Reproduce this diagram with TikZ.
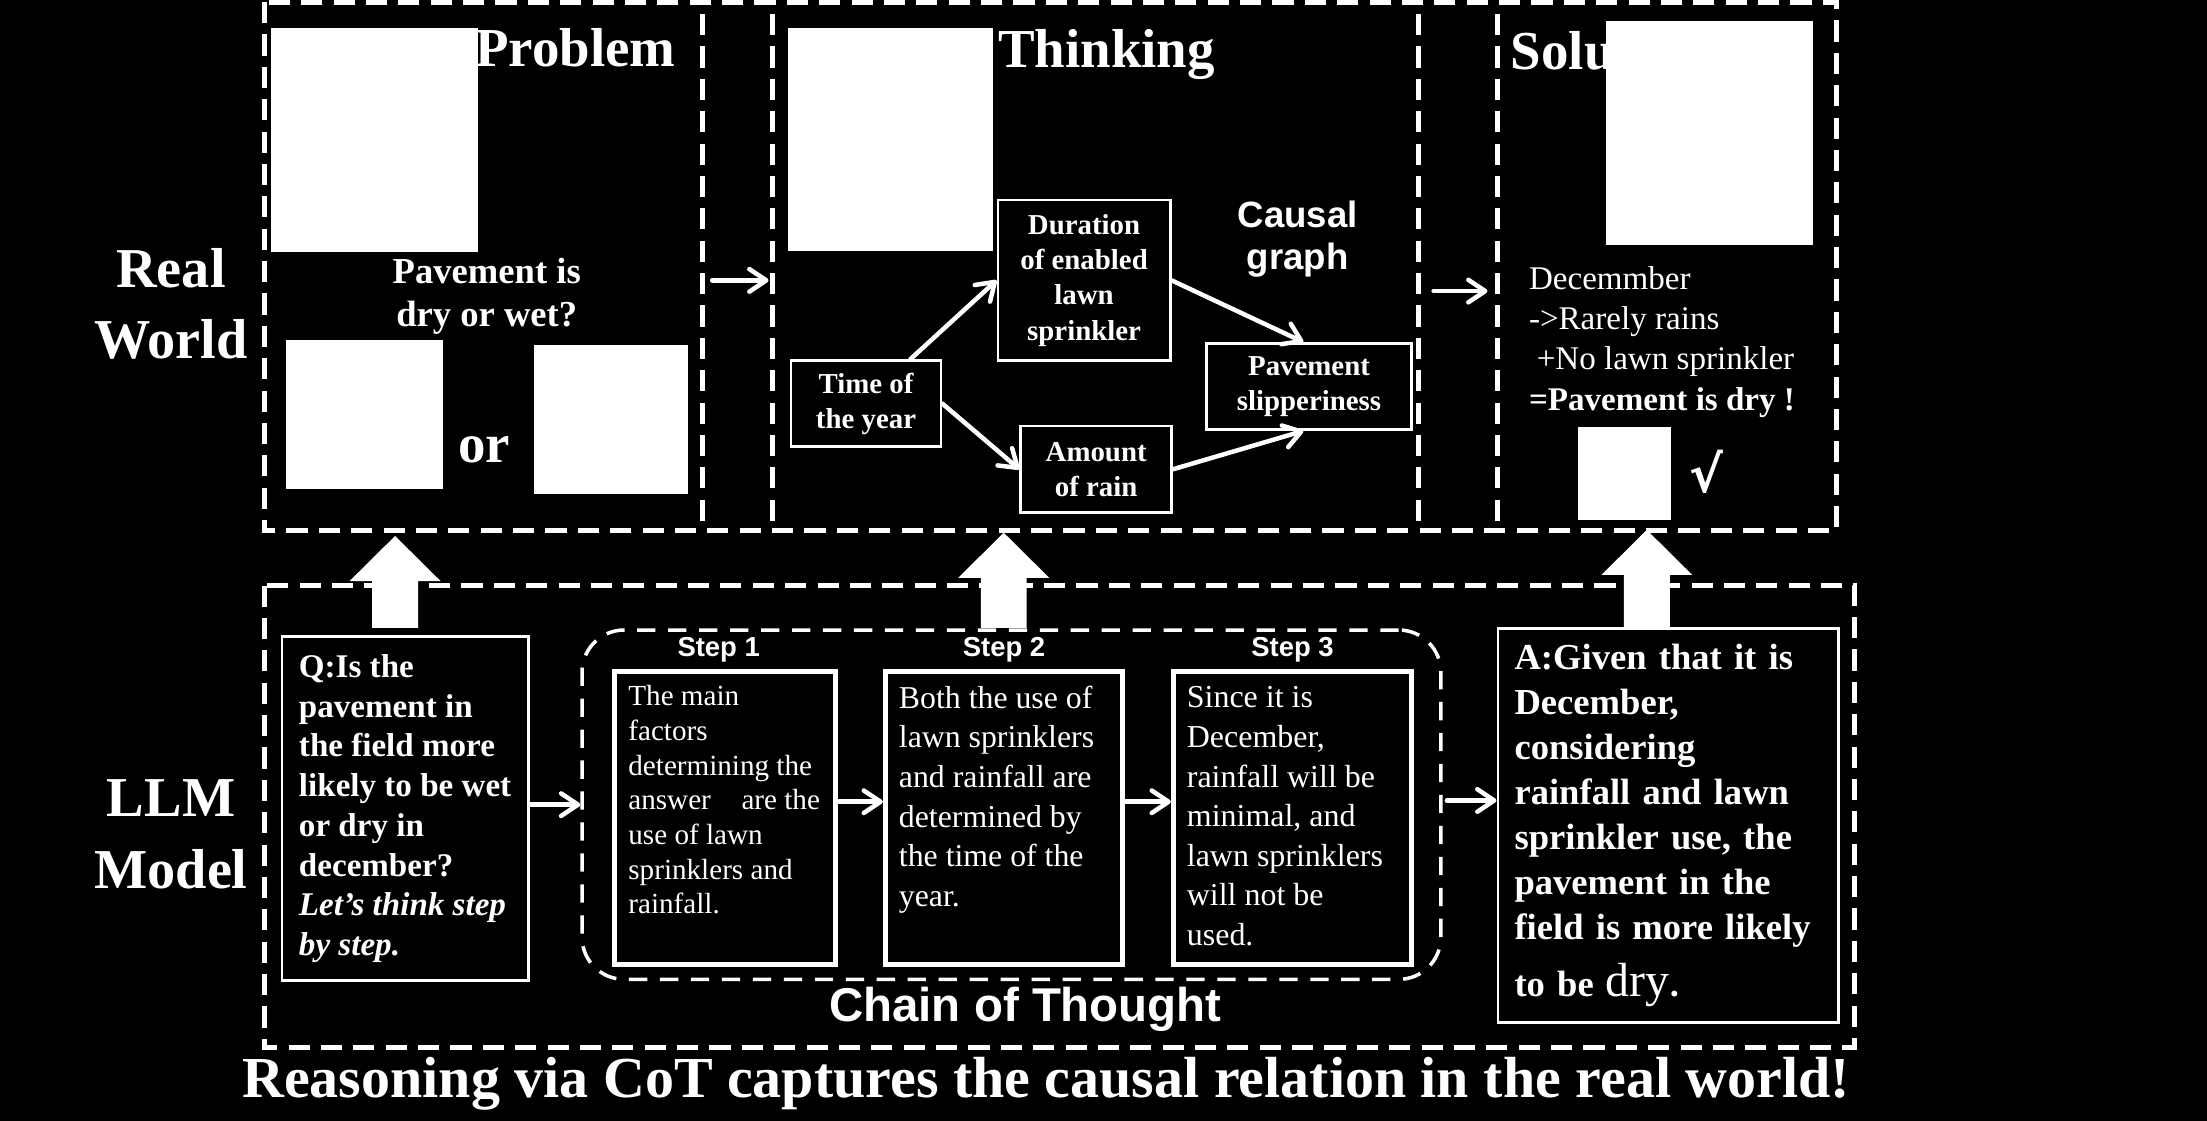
\documentclass[tikz,border=0pt]{standalone}
\usepackage{fontspec}
\setmainfont{Liberation Serif}
\setsansfont{Liberation Sans}
\newfontfamily\symfont{DejaVu Sans}
\usetikzlibrary{arrows.meta,positioning,calc}

\newcommand{\fsz}[2]{\fontsize{#1}{#2}\selectfont}

\tikzset{
  panel/.style={draw=white, line width=3.5pt, dash pattern=on 15pt off 8pt},
  title/.style={font=\bfseries\fsz{39}{39}, inner sep=0},
  sidelab/.style={font=\bfseries\fsz{40}{51}, align=center, inner sep=0},
  midtext/.style={font=\bfseries\fsz{26}{30.5}, align=center, inner sep=0},
  cg/.style={font=\sffamily\bfseries\fsz{26}{30}, align=center, inner sep=0},
  gbox/.style={draw=white, line width=2pt, font=\bfseries\fsz{20.5}{25}, align=center, inner sep=0},
  soltext/.style={font=\fsz{23.5}{28.5}, align=left, inner sep=0},
  tbox/.style={draw=white, line width=2pt, align=left, inner sep=0},
  sbox/.style={draw=white, line width=3.5pt, minimum height=207.8pt},
  stext/.style={align=left, inner sep=0},
  steplab/.style={font=\sffamily\bfseries\fsz{19.5}{19.5}, inner sep=0},
  cotbox/.style={draw=white, line width=2.5pt, dash pattern=on 13pt off 9pt, rounded corners=30pt},
  cotlab/.style={font=\sffamily\bfseries\fsz{33.7}{33.7}, inner sep=0},
  capt/.style={font=\bfseries\fsz{41.2}{41.2}, inner sep=0},
  conn/.style={->, white, line width=3.2pt, line cap=round},
}

\begin{document}
\begin{tikzpicture}[x=1pt, y=-1pt, >={Straight Barb[length=12pt,width=16pt,round]},
  every node/.style={text=white}]
\useasboundingbox (0,0) rectangle (1568,796.4);
\fill[black] (0,0) rectangle (1568,796.4);

% row labels (base = last line)
\node[sidelab, anchor=base] (rw) at (121.5,255) {Real\\World};
\node[sidelab, anchor=base] (llm) at (121.5,631.1) {LLM\\Model};

% real world panels
\draw[panel] (188,1.5) rectangle (1305,377);
\foreach \x in {499,549,1008,1064} \draw[panel] (\x,10) -- (\x,370);

% problem
\node[title, anchor=base west] (probt) at (337.5,47) {Problem};
\fill[white] (192.6,19.8) rectangle (339.3,178.9);
\node[midtext, anchor=base] (ask) at (345.8,232) {Pavement is\\dry or wet?};
\fill[white] (203.2,241.6) rectangle (314.5,347.6);
\node[title, anchor=base] (or) at (344,328.6) {or};
\fill[white] (379.2,245) rectangle (488.8,350.7);

\coordinate (pa1) at (506,199.2);
\coordinate (pa2) at (546,199.2);
\draw[conn] (pa1) -- (pa2);

% thinking
\node[title, anchor=base west] (thinkt) at (709,48.2) {Thinking};
\fill[white] (560,19.8) rectangle (705.7,178.1);
\node[cg, anchor=base] (cgraph) at (922,191.6) {Causal\\graph};

\node[gbox, minimum width=122.4pt, minimum height=114.2pt] (dur) at (770.2,199.2) {Duration\\of enabled\\lawn\\sprinkler};
\node[gbox, minimum width=106.5pt, minimum height=61pt] (time) at (615.25,286.75) {Time of\\the year};
\node[gbox, minimum width=107.1pt, minimum height=61.4pt] (rain) at (778.8,333.4) {Amount\\of rain};
\node[gbox, minimum width=145.7pt, minimum height=61.1pt] (pave) at (930,274.6) {Pavement\\slipperiness};

\draw[conn] (time.45) -- (dur.west);
\draw[conn] (time.east) -- (rain.west);
\draw[conn] (dur.east) -- ([xshift=-4pt]pave.north);
\draw[conn] (rain.east) -- ([xshift=-4pt]pave.south);

\coordinate (pb1) at (1018.5,206.8);
\coordinate (pb2) at (1056.8,206.8);
\draw[conn] (pb1) -- (pb2);

% solution
\node[title, anchor=base west] (solt) at (1073.3,49.5) {Solution};
\fill[white] (1141,14.7) rectangle (1288,174.1);
\node[soltext, anchor=base west] (sol) at (1086.1,291.3) {Decemmber\\->Rarely rains\\\hspace*{5.5pt}+No lawn sprinkler\\\textbf{=Pavement is dry !}};
\fill[white] (1120.9,303.7) rectangle (1187.4,369.2);
\node[font=\symfont\bfseries\fsz{36}{36}, inner sep=0, anchor=base] (ok) at (1212.5,350) {√};

% llm panel
\draw[panel] (188,416) rectangle (1317.4,744);
\foreach \x/\t in {280.7/380.8, 713.1/378.5, 1170/376.5}
  \fill[white] (\x-16.3,446) -- (\x-16.3,\t+32) -- (\x-32.3,\t+32) -- (\x,\t)
    -- (\x+32.3,\t+32) -- (\x+16.3,\t+32) -- (\x+16.3,446) -- cycle;

\node[tbox, font=\bfseries\fsz{23.5}{28.2}, minimum width=174.8pt, minimum height=244.4pt] (qbox) at (287.8,574.5)
  {Q:Is the\\pavement in\\the field more\\likely to be wet\\or dry in\\december?\\\textit{Let’s think step}\\\textit{by step.}};

\node[cotbox, minimum width=610.2pt, minimum height=248.2pt] (cot) at (718.6,571.7) {};
\node[cotlab, anchor=base] (cotl) at (728.5,725.9) {Chain of Thought};

\node[sbox, minimum width=156.6pt] (s1) at (515.2,581.1) {};
\node[sbox, minimum width=168.7pt] (s2) at (713.35,581.1) {};
\node[sbox, minimum width=169.4pt] (s3) at (918.3,581.1) {};
\node[steplab, anchor=base] (l1) at ([xshift=-4.6pt,yshift=8.7pt]s1.north) {Step 1};
\node[steplab, anchor=base] (l2) at ([yshift=8.7pt]s2.north) {Step 2};
\node[steplab, anchor=base] (l3) at ([yshift=8.7pt]s3.north) {Step 3};

% step texts, base = last line
\node[stext, font=\fsz{20.7}{24.6}, anchor=base west] (t1) at ([xshift=11.1pt,yshift=-173.7pt]s1.north west)
  {The main\\factors\\determining the\\answer\hspace{0.8em} are the\\use of lawn\\sprinklers and\\rainfall.};
\node[stext, font=\fsz{22.6}{28.2}, anchor=base west] (t2) at ([xshift=11.2pt,yshift=-168.7pt]s2.north west)
  {Both the use of\\lawn sprinklers\\and rainfall are\\determined by\\the time of the\\year.};
\node[stext, font=\fsz{22.7}{28.1}, anchor=base west] (t3) at ([xshift=11.2pt,yshift=-196.1pt]s3.north west)
  {Since it is\\December,\\rainfall will be\\minimal, and\\lawn sprinklers\\will not be\\used.};

\node[tbox, font=\bfseries\fsz{26}{32}, text width=218.2pt, inner xsep=11.8pt, minimum width=241.8pt, minimum height=279.9pt] (abox) at (1185.1,586.35)
  {A:Given that it is\\December,\\considering\\rainfall and lawn\\sprinkler use, the\\pavement in the\\field is more likely\\[8pt]to be {\mdseries\fsz{34}{34}dry}.};

\draw[conn] (qbox.east |- cot.west) -- (cot.west);
\draw[conn] ([yshift=11.5pt]s1.east) -- ([yshift=11.5pt]s2.west);
\draw[conn] ([yshift=11.5pt]s2.east) -- ([yshift=11.5pt]s3.west);
\draw[conn] ([xshift=3pt,yshift=3pt]cot.east) coordinate (c1) -- (abox.west |- c1);

% caption
\node[capt, anchor=base] (capt) at (743.2,779.6) {Reasoning via CoT captures the causal relation in the real world!};
\end{tikzpicture}
\end{document}
